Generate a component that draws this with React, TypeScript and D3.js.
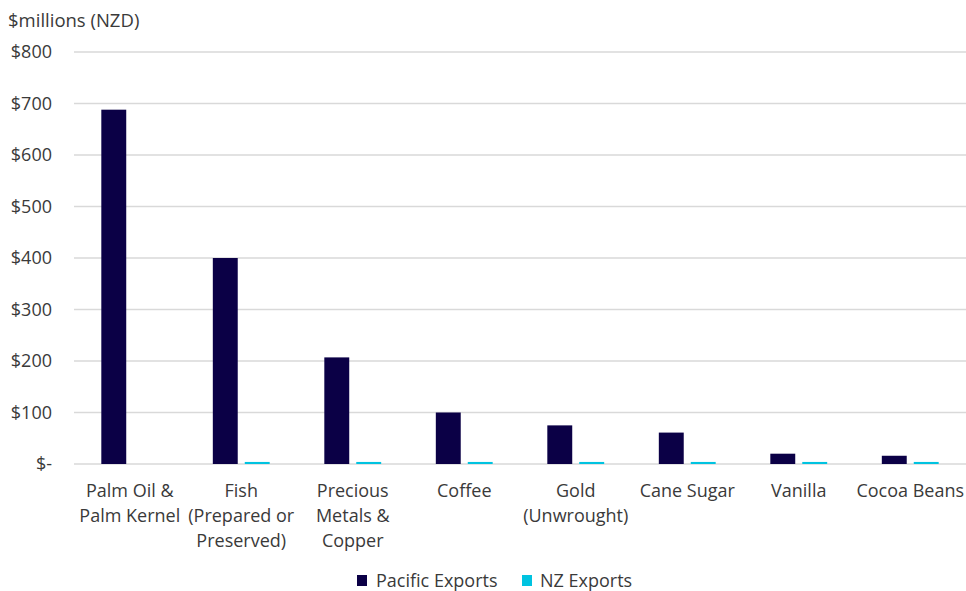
import React from 'react'
import * as d3 from 'd3'

// categories, one entry per line of the wrapped axis label
const categories: string[] = [
  'Palm Oil', 'Fish', 'Precious Metals', 'Coffee', 'Gold', 'Cane Sugar', 'Vanilla', 'Cocoa Beans'
]
const categoryLines: string[][] = [
  ['Palm Oil &', 'Palm Kernel'],
  ['Fish', '(Prepared or', 'Preserved)'],
  ['Precious', 'Metals &', 'Copper'],
  ['Coffee'],
  ['Gold', '(Unwrought)'],
  ['Cane Sugar'],
  ['Vanilla'],
  ['Cocoa Beans']
]
const seriesNames: string[] = ['Pacific Exports', 'NZ Exports']
const pacificExports: number[] = [688, 400, 207, 100, 75, 61, 20, 16]
const nzExports: number[] = [0, 4, 4, 4, 4, 4, 4, 4]
const yTicks: number[] = [0, 100, 200, 300, 400, 500, 600, 700, 800]
const yTickLabels: string[] = ['$-', '$100', '$200', '$300', '$400', '$500', '$600', '$700', '$800']

const W = 966
const H = 591
const margin = { top: 52, right: 0, bottom: 127, left: 74 }
const colors = ['#0b0046', '#00c3e0']
const textColor = '#3a3a3a'
const font = '"Open Sans", sans-serif'

const App = () => {
  const x = d3.scaleBand<string>()
    .domain(categories)
    .range([margin.left, W - margin.right])
    .paddingInner(0.49)
    .paddingOuter(0.245)

  // position of the two series inside one category
  const xs = d3.scaleBand<string>()
    .domain(seriesNames)
    .range([0, x.bandwidth()])
    .paddingInner(0.22)

  const y = d3.scaleLinear()
    .domain([0, 800])
    .range([H - margin.bottom, margin.top])

  const series = [pacificExports, nzExports]

  return (
    <svg width={W} height={H} style={{ position: 'absolute', left: 0, top: 0 }} fontFamily={font}>
      <rect width={W} height={H} fill='#fff' />
      <text x={8} y={27} fontSize={18.5} fill={textColor}>$millions (NZD)</text>

      {yTicks.map((t, i) => (
        <g key={t}>
          <line x1={margin.left} x2={W - margin.right} y1={y(t)} y2={y(t)} stroke='#d9d9d9' strokeWidth={1.4} />
          <text x={52} y={y(t)} dy='0.35em' textAnchor='end' fontSize={18} fill={textColor}>{yTickLabels[i]}</text>
        </g>
      ))}

      {categories.map((c, ci) => (
        <g key={c} transform={`translate(${x(c)},0)`}>
          {series.map((vals, si) => (
            <rect
              key={si}
              x={xs(seriesNames[si])}
              width={xs.bandwidth()}
              y={y(vals[ci])}
              height={y(0) - y(vals[ci])}
              fill={colors[si]}
            />
          ))}
        </g>
      ))}

      {categories.map((c, ci) => {
        const cx = (x(c) as number) + x.bandwidth() / 2
        return (
          <text key={c} x={cx} textAnchor='middle' fontSize={18} fill={textColor}>
            {categoryLines[ci].map((l, li) => (
              <tspan key={li} x={cx} y={497 + li * 25}>{l}</tspan>
            ))}
          </text>
        )
      })}

      <g>
        <rect x={357} y={575} width={10} height={11} fill={colors[0]} />
        <text x={376} y={587} fontSize={18} fill={textColor}>{seriesNames[0]}</text>
        <rect x={522} y={575} width={10} height={11} fill={colors[1]} />
        <text x={540} y={587} fontSize={18} fill={textColor}>{seriesNames[1]}</text>
      </g>
    </svg>
  )
}

export default App
